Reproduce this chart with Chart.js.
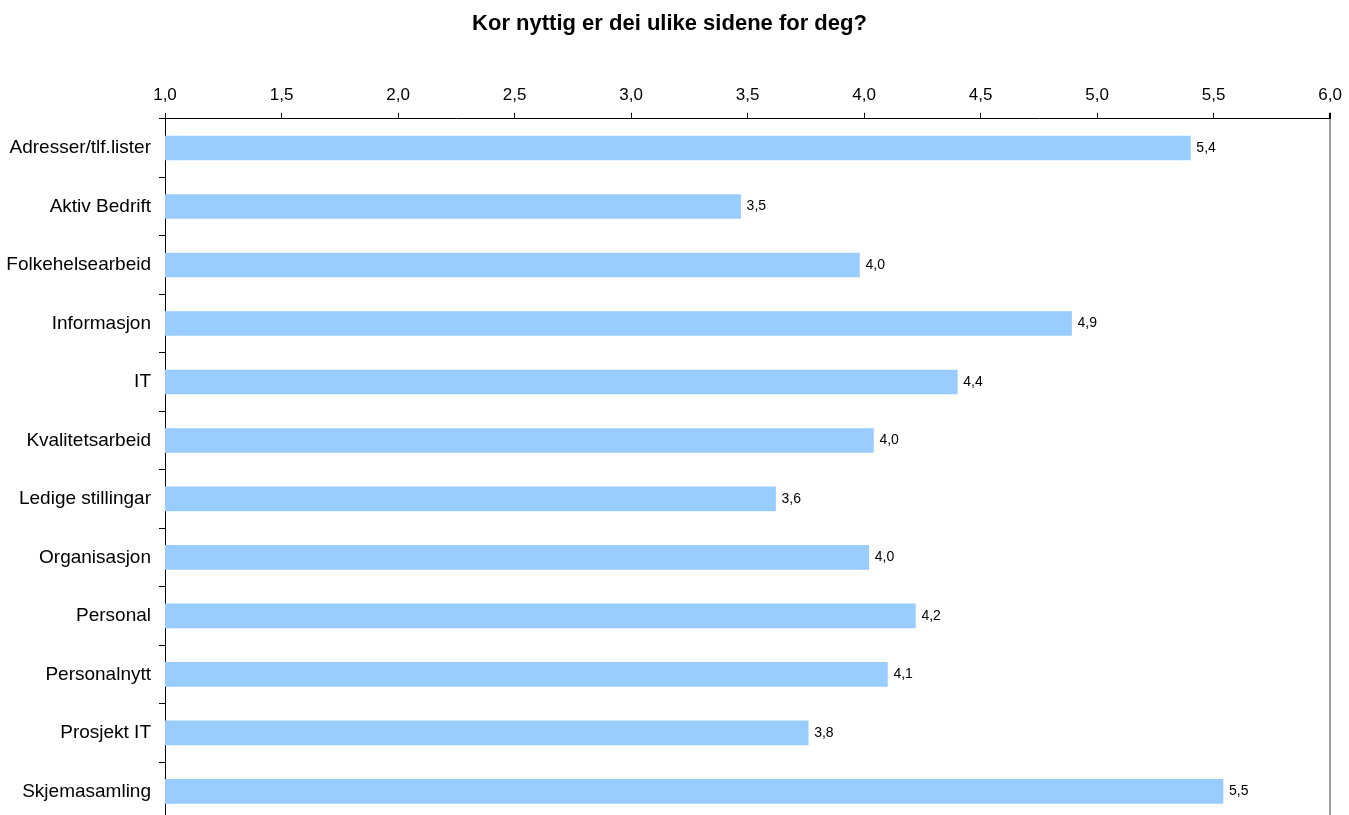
<!DOCTYPE html>
<html>
<head>
<meta charset="utf-8">
<script src="https://cdn.jsdelivr.net/npm/chart.js@4"></script>
<style>
  html, body { margin: 0; padding: 0; background: #fff; overflow: hidden; }
  #wrap { width: 1349px; height: 840px; }
</style>
</head>
<body>
<div id="wrap"><canvas id="barChart"></canvas></div>
<script>
// Data
var categories = ['Adresser/tlf.lister', 'Aktiv Bedrift', 'Folkehelsearbeid', 'Informasjon', 'IT',
    'Kvalitetsarbeid', 'Ledige stillingar', 'Organisasjon', 'Personal', 'Personalnytt',
    'Prosjekt IT', 'Skjemasamling'];
var scores = [5.40, 3.47, 3.98, 4.89, 4.40, 4.04, 3.62, 4.02, 4.22, 4.10, 3.76, 5.54];
var axisMin = 1, axisMax = 6, axisStep = 0.5;

function comma(v) {
    return Number(v).toFixed(1).replace('.', ',');
}

// Value label to the right of each bar
var valueLabels = {
    id: 'valueLabels',
    afterDatasetsDraw: function (chart) {
        var ctx = chart.ctx;
        var meta = chart.getDatasetMeta(0);
        ctx.save();
        ctx.font = '14px "Liberation Sans", Arial, sans-serif';
        ctx.fillStyle = '#000';
        ctx.textAlign = 'left';
        ctx.textBaseline = 'middle';
        meta.data.forEach(function (bar, i) {
            ctx.fillText(comma(chart.data.datasets[0].data[i]), bar.x + 6, bar.y);
        });
        ctx.restore();
    }
};

var ctx = document.getElementById('barChart').getContext('2d');
var barChart = new Chart(ctx, {
    type: 'bar',
    data: {
        labels: categories,
        datasets: [{
            data: scores,
            backgroundColor: '#99CCFF',
            borderWidth: 0,
            barThickness: 24
        }]
    },
    options: {
        indexAxis: 'y',
        responsive: true,
        maintainAspectRatio: false,
        animation: false,
        layout: { padding: { left: 0, right: 10, top: 0, bottom: 0 } },
        plugins: {
            legend: { display: false },
            tooltip: { enabled: false },
            title: {
                display: true,
                text: 'Kor nyttig er dei ulike sidene for deg?',
                color: '#000',
                font: { family: '"Liberation Sans", Arial, sans-serif', size: 22, weight: 'bold' },
                padding: { top: 11, bottom: 41 }
            }
        },
        scales: {
            x: {
                position: 'top',
                min: axisMin,
                max: axisMax,
                ticks: {
                    stepSize: axisStep,
                    color: '#000',
                    padding: 7,
                    font: { family: '"Liberation Sans", Arial, sans-serif', size: 17 },
                    callback: function (v) { return comma(v); }
                },
                grid: {
                    drawOnChartArea: true,
                    color: function (c) { return c.index === 10 ? '#A0A0A0' : 'rgba(0,0,0,0)'; },
                    tickColor: '#000',
                    tickLength: 6,
                    lineWidth: function (c) { return c.index === 10 ? 2 : 1; }
                },
                border: { display: true, color: '#000', width: 1 }
            },
            y: {
                offset: true,
                afterFit: function (scale) { scale.width = 165; },
                ticks: {
                    color: '#000',
                    padding: 8,
                    font: { family: '"Liberation Sans", Arial, sans-serif', size: 19 }
                },
                grid: {
                    offset: true,
                    drawOnChartArea: false,
                    tickColor: '#000',
                    tickLength: 6
                },
                border: { display: true, color: '#000', width: 1 }
            }
        }
    },
    plugins: [valueLabels]
});
</script>
</body>
</html>
